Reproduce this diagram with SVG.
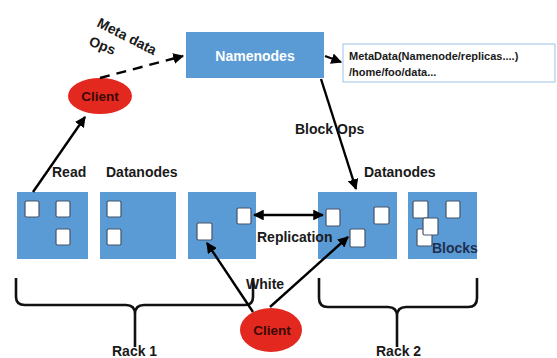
<svg xmlns="http://www.w3.org/2000/svg" width="557" height="358" viewBox="0 0 557 358">
  <style>
    .lbl { font-family: "Liberation Sans", Arial, sans-serif; font-weight: bold; font-size: 14px; fill: #1a1a1a; }
    .dn { fill: #5b9bd5; }
    .blk { fill: #ffffff; stroke: #44546a; stroke-width: 1.2; }
    .client { fill: #e3281f; }
    .ctext { font-family: "Liberation Sans", Arial, sans-serif; font-weight: bold; font-size: 13.5px; fill: #3a0a05; }
    .edge { stroke: #000; stroke-width: 2.4; fill: none; }
    .brace { stroke: #111; stroke-width: 2.6; fill: none; }
  </style>
  <defs>
    <marker id="arrow" viewBox="0 0 10 10" refX="9" refY="5" markerWidth="4.5" markerHeight="4.5" orient="auto-start-reverse">
      <path d="M0,0 L10,5 L0,10 z" fill="#000"/>
    </marker>
  </defs>
  <rect width="557" height="358" fill="#ffffff"/>

  <!-- rack braces -->
  <g id="rack1-brace">
    <path class="brace" d="M16,278 V297 Q16,305 25,305 H126 Q135,305 135,314 V347 M135,314 Q135,305 144,305 H245 Q253,305 253,297 V278"/>
  </g>
  <g id="rack2-brace">
    <path class="brace" d="M319,278 V298 Q319,307 328,307 H388 Q397,307 397,316 V347 M397,316 Q397,307 406,307 H468 Q477,307 477,298 V278"/>
  </g>

  <!-- namenode -->
  <g id="namenodes">
    <rect x="186" y="32" width="138" height="46" fill="#5b9bd5"/>
    <text x="255" y="61" text-anchor="middle" style="font-family:'Liberation Sans',Arial,sans-serif;font-weight:bold;font-size:14px;fill:#fff">Namenodes</text>
  </g>

  <g id="metadata">
    <rect x="343" y="44" width="212" height="38" fill="#fff" stroke="#9dc3e6" stroke-width="1"/>
    <text class="lbl" x="349" y="60" style="font-size:11px">MetaData(Namenode/replicas....)</text>
    <text class="lbl" x="349" y="76" style="font-size:11px">/home/foo/data...</text>
  </g>

  <g id="client-top">
    <ellipse class="client" cx="100" cy="96" rx="32" ry="18"/>
    <text class="ctext" x="100" y="101" text-anchor="middle">Client</text>
  </g>

  <g id="client-bottom">
    <ellipse class="client" cx="271" cy="330" rx="31" ry="22"/>
    <text class="ctext" x="272" y="335" text-anchor="middle">Client</text>
  </g>

  <!-- datanodes, rack 1 -->
  <g id="datanode-1">
    <rect class="dn" x="17" y="192" width="71" height="67"/>
    <rect class="blk" x="25" y="201" width="14" height="16" rx="1.5"/>
    <rect class="blk" x="56" y="201" width="14" height="16" rx="1.5"/>
    <rect class="blk" x="56" y="229" width="14" height="16" rx="1.5"/>
  </g>
  <g id="datanode-2">
    <rect class="dn" x="100" y="192" width="76" height="67"/>
    <rect class="blk" x="107" y="201" width="14" height="16" rx="1.5"/>
    <rect class="blk" x="107" y="229" width="14" height="16" rx="1.5"/>
  </g>
  <g id="datanode-3">
    <rect class="dn" x="188" y="192" width="68" height="67"/>
    <rect class="blk" x="237" y="208" width="14" height="16" rx="1.5"/>
    <rect class="blk" x="197" y="223" width="15" height="17" rx="1.5"/>
  </g>

  <!-- datanodes, rack 2 -->
  <g id="datanode-4">
    <rect class="dn" x="318" y="192" width="79" height="67"/>
    <rect class="blk" x="326" y="209" width="14" height="17" rx="1.5"/>
    <rect class="blk" x="374" y="207" width="15" height="17" rx="1.5"/>
    <rect class="blk" x="350" y="229" width="15" height="18" rx="1.5"/>
  </g>
  <g id="datanode-5">
    <rect class="dn" x="408" y="192" width="69" height="67"/>
    <rect class="blk" x="413" y="201" width="15" height="17" rx="1.5"/>
    <rect class="blk" x="446" y="201" width="14" height="17" rx="1.5"/>
    <rect class="blk" x="417" y="229" width="15" height="17" rx="1.5"/>
    <rect class="blk" x="423" y="218" width="15" height="17" rx="1.5"/>
    <text class="lbl" x="432" y="253" style="fill:#1f2f4f">Blocks</text>
  </g>

  <!-- connectors -->
  <g id="connectors">
    <line class="edge" x1="100" y1="78" x2="183" y2="56" stroke-dasharray="10,7" marker-end="url(#arrow)"/>
    <line class="edge" x1="33" y1="192" x2="85" y2="117" marker-end="url(#arrow)"/>
    <line class="edge" x1="325" y1="56" x2="341" y2="62" marker-end="url(#arrow)"/>
    <line class="edge" x1="321" y1="79" x2="356" y2="189" marker-end="url(#arrow)"/>
    <line class="edge" x1="254" y1="215" x2="323" y2="215" marker-start="url(#arrow)" marker-end="url(#arrow)"/>
    <line class="edge" x1="253" y1="312" x2="207" y2="243" marker-end="url(#arrow)"/>
    <line class="edge" x1="270" y1="307" x2="348" y2="237" marker-end="url(#arrow)"/>
  </g>

  <!-- labels -->
  <g id="labels">
    <text class="lbl" transform="translate(96,26) rotate(27)">Meta data</text>
    <text class="lbl" transform="translate(88,45) rotate(22)">Ops</text>
    <text class="lbl" x="52" y="177">Read</text>
    <text class="lbl" x="106" y="177">Datanodes</text>
    <text class="lbl" x="295" y="134">Block Ops</text>
    <text class="lbl" x="364" y="177">Datanodes</text>
    <text class="lbl" x="257" y="242">Replication</text>
    <text class="lbl" x="246" y="289">White</text>
    <text class="lbl" x="112" y="356">Rack 1</text>
    <text class="lbl" x="376" y="356">Rack 2</text>
  </g>
</svg>
